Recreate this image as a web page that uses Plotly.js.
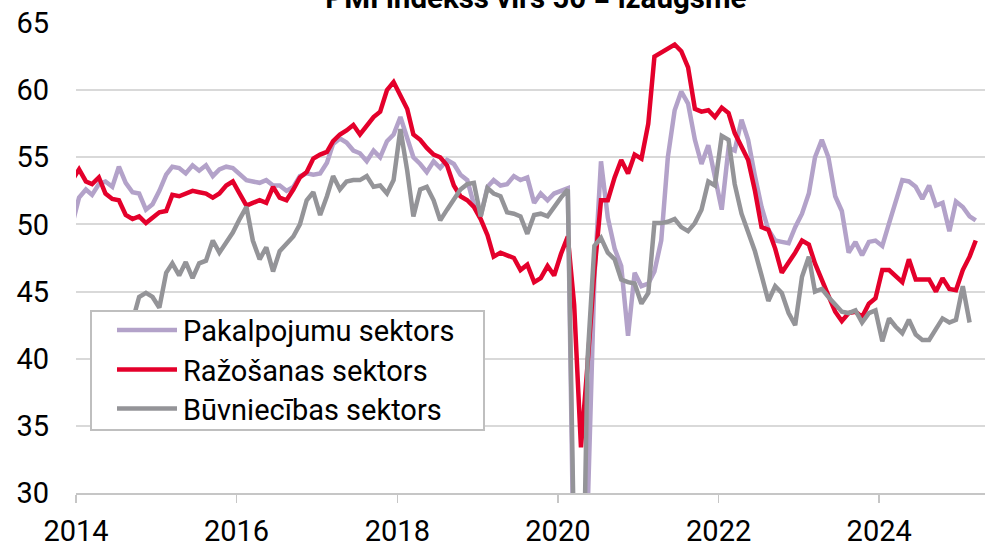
<!DOCTYPE html>
<html>
<head>
<meta charset="utf-8">
<script src="https://cdn.plot.ly/plotly-3.0.1.min.js"></script>
<style>html,body{margin:0;padding:0;background:#fff;}#chart{width:985px;height:546px;}</style>
</head>
<body>
<div id="chart"></div>
<script>
// First month of the series (December 2013, partly clipped by the axis)
const startYear = 2013, startMonth = 12;

const seriesNames = ["Pakalpojumu sektors", "Ražošanas sektors", "Būvniecības sektors"];

// Pakalpojumu sektors (services), Dec 2013 .. Mar 2025
const services = [
 50.0,
 52.0,52.6,52.2,53.0,53.2,52.8,54.3,53.1,52.4,52.3,51.1,51.5,
 52.5,53.7,54.3,54.2,53.8,54.4,54.0,54.4,53.6,54.1,54.3,54.2,
 53.7,53.3,53.2,53.1,53.3,52.9,52.9,52.5,52.8,53.6,53.8,53.7,
 53.8,54.6,56.0,56.4,56.1,55.5,55.3,54.7,55.5,55.0,56.2,56.7,
 58.0,56.5,55.0,54.5,53.9,54.7,54.2,54.8,54.5,53.7,53.3,51.5,
 50.6,52.8,53.3,52.9,53.0,53.6,53.3,53.5,51.6,52.3,51.8,52.3,
 52.5,52.7,22.0,12.0,28.5,46.0,54.7,50.5,48.2,46.9,41.7,46.4,
 45.4,45.6,46.5,48.8,55.0,58.5,59.9,59.0,56.3,54.5,55.9,53.5,
 51.1,55.7,55.5,57.8,56.3,53.6,51.3,49.6,48.8,48.7,48.6,49.8,
 50.8,52.3,55.0,56.3,55.0,52.1,51.0,47.9,48.7,47.7,48.7,48.8,
 48.4,50.1,51.6,53.3,53.2,52.8,51.9,52.9,51.4,51.6,49.5,51.7,
 51.3,50.6,50.3
];

// Ražošanas sektors (manufacturing), Dec 2013 .. Mar 2025
const manufacturing = [
 53.3,
 54.1,53.2,53.0,53.5,52.3,51.9,51.8,50.7,50.4,50.6,50.1,50.5,
 50.9,51.0,52.2,52.1,52.3,52.5,52.4,52.3,52.0,52.3,52.9,53.2,
 52.3,51.4,51.6,51.8,51.6,52.8,52.0,51.8,52.6,53.5,53.9,54.9,
 55.2,55.4,56.2,56.7,57.0,57.4,56.7,57.3,58.0,58.4,60.0,60.6,
 59.6,58.6,56.7,56.3,55.7,55.2,55.0,54.4,52.9,52.1,51.8,51.3,
 50.4,49.2,47.6,47.9,47.7,47.5,46.6,47.0,45.7,46.0,46.9,46.2,
 47.8,49.1,44.0,33.4,39.6,46.5,51.8,51.8,53.5,54.8,53.8,55.2,
 54.9,57.5,62.5,62.8,63.1,63.4,62.9,61.7,58.6,58.4,58.5,58.0,
 58.7,58.3,56.8,55.8,54.8,52.5,49.8,49.6,48.2,46.4,47.1,47.9,
 48.8,48.5,47.1,45.8,44.7,43.5,42.8,43.4,43.5,43.1,44.1,44.5,
 46.6,46.6,46.2,45.7,47.4,45.9,45.9,45.9,45.0,46.0,45.2,45.1,
 46.6,47.6,48.8
];

// Būvniecības sektors (construction), Dec 2013 .. Feb 2025 (first months hidden behind the legend)
const construction = [
 null,
 null,null,null,41.5,42.3,41.9,42.6,42.0,42.8,44.6,44.9,44.6,
 43.8,46.4,47.1,46.2,47.2,46.0,47.1,47.3,48.8,47.9,48.6,49.4,
 50.4,51.3,48.8,47.4,48.3,46.5,48.0,48.6,49.1,50.0,51.8,52.4,
 50.7,52.1,53.6,52.6,53.2,53.3,53.3,53.6,52.8,52.9,52.3,53.3,
 57.1,54.0,50.6,52.6,52.8,51.8,50.3,51.1,51.8,52.6,53.0,53.1,
 50.6,52.7,52.3,52.1,50.9,50.8,50.6,49.3,50.7,50.8,50.6,51.3,
 52.0,52.6,25.5,13.0,40.0,48.4,49.0,47.9,47.4,45.9,45.7,45.6,
 44.1,44.9,50.1,50.1,50.2,50.4,49.8,49.5,50.1,51.1,53.2,52.9,
 56.6,56.3,53.0,50.8,49.5,48.0,46.2,44.3,45.4,44.9,43.4,42.5,
 46.1,47.6,45.0,45.2,44.6,44.1,43.5,43.4,43.6,42.7,43.4,43.6,
 41.3,43.0,42.4,41.9,42.9,41.8,41.4,41.4,42.2,43.0,42.7,42.9,
 45.4,42.7
];

const yearTicks = ["2014","2016","2018","2020","2022","2024"];

const colors = ["#b3a2c9", "#e4002b", "#949498"];

function monthDates(n) {
  const out = [];
  for (let i = 0; i < n; i++) {
    const t = (startMonth - 1) + i;
    const y = startYear + Math.floor(t / 12);
    const mo = (t % 12) + 1;
    out.push(y + "-" + String(mo).padStart(2, "0") + "-15");
  }
  return out;
}

const allY = [services, manufacturing, construction];
const traces = allY.map((vals, i) => ({
  type: "scatter",
  mode: "lines",
  name: seriesNames[i],
  x: monthDates(vals.length),
  y: vals,
  line: {color: colors[i], width: 4.5},
  connectgaps: false
}));

const font = "Roboto, 'Noto Sans', Arial, sans-serif";

const layout = {
  width: 985, height: 546,
  margin: {l: 76, r: 0, t: 23, b: 53},
  paper_bgcolor: "#ffffff",
  plot_bgcolor: "#ffffff",
  showlegend: true,
  font: {family: font, color: "#000000", size: 29},
  title: {
    text: "PMI indekss virs 50 = izaugsme",
    font: {family: font, size: 29.5, color: "#000000", weight: "bold"},
    x: 0.544, xref: "container", xanchor: "center",
    y: 0.9855, yref: "container", yanchor: "bottom"
  },
  xaxis: {
    type: "date",
    range: ["2014-01-01", "2025-04-26"],
    tickvals: yearTicks.map(y => y + "-01-01"),
    ticktext: yearTicks,
    showgrid: false,
    zeroline: false,
    showline: true,
    linecolor: "#c6c6c6",
    linewidth: 2,
    ticks: "outside",
    ticklen: 8,
    tickwidth: 1.5,
    tickcolor: "#c6c6c6",
    ticklabelstandoff: 3,
    tickfont: {family: font, size: 29, color: "#000000"}
  },
  yaxis: {
    range: [30, 65],
    tick0: 30, dtick: 5,
    showgrid: true,
    gridcolor: "#d9d9d9",
    gridwidth: 2,
    zeroline: false,
    showline: false,
    ticks: "",
    ticklabelstandoff: 26,
    tickfont: {family: font, size: 29, color: "#000000"}
  },
  legend: {
    x: 0.0154, y: 0.39, xanchor: "left", yanchor: "top",
    bgcolor: "#ffffff",
    bordercolor: "#bfbfbf",
    borderwidth: 2,
    itemwidth: 81,
    font: {family: font, size: 29, color: "#000000"},
    traceorder: "normal"
  }
};

// Legend row centres and box bottom (page pixels) as in the original picture
const legendRowY = [330, 369.5, 408.5];
const legendBottom = 430;

Plotly.newPlot("chart", traces, layout, {displayModeBar: false, staticPlot: true}).then(gd => {
  const legend = gd.querySelector(".legend");
  if (!legend) return;
  let maxRight = -Infinity;
  legend.querySelectorAll(".traces").forEach((g, i) => {
    const txt = g.querySelector("text.legendtext");
    const path = g.querySelector(".legendlines path");
    if (!txt || !path) return;
    // longer (60 px) line sample ending just before the label
    const gM = g.getCTM(), pM = path.getCTM();
    const offset = pM.e - gM.e;
    const textX = parseFloat(txt.getAttribute("x")) || 0;
    path.setAttribute("d", "M" + (textX - 66 - offset) + ",0h60");
    // tighter row spacing
    if (legendRowY[i] !== undefined) {
      const pr = path.getBoundingClientRect();
      const cy = (pr.top + pr.bottom) / 2;
      const dy = legendRowY[i] - cy;
      g.setAttribute("transform", (g.getAttribute("transform") || "") + " translate(0," + dy + ")");
    }
    maxRight = Math.max(maxRight, txt.getBoundingClientRect().right);
  });
  const bg = legend.querySelector("rect.bg");
  if (bg) {
    const br = bg.getBoundingClientRect();
    const w = parseFloat(bg.getAttribute("width"));
    const h = parseFloat(bg.getAttribute("height"));
    if (isFinite(maxRight)) {
      const desired = maxRight + 30 - br.left;
      if (desired > w) bg.setAttribute("width", desired);
    }
    const newH = h + (legendBottom - br.bottom);
    if (newH > 0) bg.setAttribute("height", newH);
  }
});
</script>
</body>
</html>
